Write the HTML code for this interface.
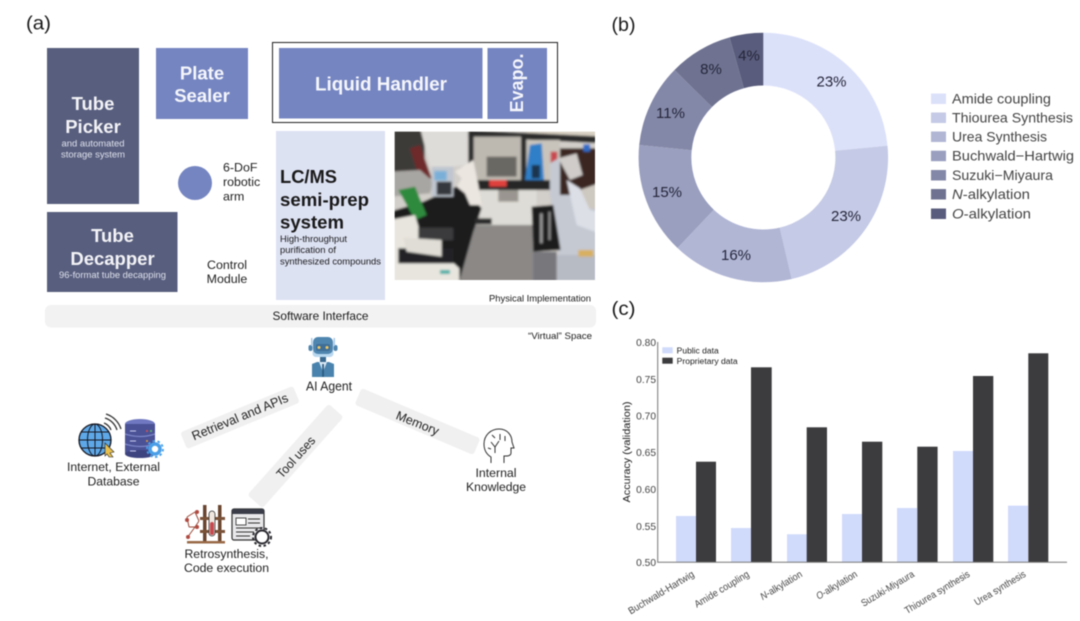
<!DOCTYPE html>
<html><head><meta charset="utf-8"><style>
html,body{margin:0;padding:0;background:#fff;width:1080px;height:621px;overflow:hidden}
svg{display:block;filter:blur(.4px)}
text{font-family:"Liberation Sans",sans-serif;fill:#1a1a1a}
.w{fill:#fff;font-weight:bold;font-size:18.5px;text-anchor:middle;fill-opacity:.93}
.ws{fill:#dfe1ec;font-size:9px;text-anchor:middle}
.d{fill:#222;font-size:12.4px}
.p{font-size:15px;fill:#25263a;text-anchor:middle}
.l{font-size:14px;fill:#444}
.t{font-size:10.2px;fill:#444;text-anchor:end}
.x{font-size:10px;fill:#444;text-anchor:end}
</style></head><body>
<svg width="1080" height="621" viewBox="0 0 1080 621" xmlns="http://www.w3.org/2000/svg">
<defs>
<filter id="b1" x="-5%" y="-5%" width="110%" height="110%"><feGaussianBlur stdDeviation="3.5"/></filter>
<clipPath id="pc"><rect x="14" y="20" width="601" height="445"/></clipPath>
</defs>
<rect width="1080" height="621" fill="#fff"/>

<text x="26" y="29.5" font-size="19.5" textLength="25" lengthAdjust="spacingAndGlyphs">(a)</text>
<rect x="47" y="48" width="92" height="156" fill="#585e7e"/>
<rect x="156" y="48" width="92" height="71" fill="#7585c1"/>
<rect x="47" y="212" width="130.500" height="80" fill="#585e7e"/>
<circle cx="195" cy="183" r="17" fill="#7585c1"/>
<rect x="272.500" y="42.500" width="285" height="80" fill="none" stroke="#222" stroke-width="1"/>
<rect x="279" y="48" width="203.500" height="70.500" fill="#7585c1"/>
<rect x="487.500" y="48" width="59.500" height="71" fill="#7585c1"/>
<rect x="276" y="131" width="109" height="169" fill="#dde2f3"/>

<text class="w" x="93" y="110">Tube</text>
<text class="w" x="93" y="133">Picker</text>
<text class="ws" x="93" y="146.500" textLength="63" lengthAdjust="spacingAndGlyphs">and automated</text>
<text class="ws" x="93" y="157.500" textLength="64" lengthAdjust="spacingAndGlyphs">storage system</text>
<text class="w" x="202" y="79.500">Plate</text>
<text class="w" x="202" y="102">Sealer</text>
<text class="w" x="112.500" y="242">Tube</text>
<text class="w" x="112.500" y="265">Decapper</text>
<text class="ws" x="112.500" y="278" textLength="107" lengthAdjust="spacingAndGlyphs">96-format tube decapping</text>
<text class="d" x="223" y="171.500">6-DoF</text>
<text class="d" x="223" y="186">robotic</text>
<text class="d" x="223" y="200.500">arm</text>
<text class="d" x="227" y="269" text-anchor="middle">Control</text>
<text class="d" x="227" y="283" text-anchor="middle">Module</text>
<text class="w" x="381" y="90.500" style="font-size:19px" textLength="132" lengthAdjust="spacingAndGlyphs">Liquid Handler</text>
<text class="w" transform="translate(523,112.500) rotate(-90)" style="text-anchor:start;font-size:18px" textLength="59" lengthAdjust="spacingAndGlyphs">Evapo.</text>
<text x="280" y="183" font-size="18.500" font-weight="bold" fill="#111" textLength="57" lengthAdjust="spacingAndGlyphs">LC/MS</text>
<text x="280" y="206" font-size="18.500" font-weight="bold" fill="#111" textLength="89" lengthAdjust="spacingAndGlyphs">semi-prep</text>
<text x="280" y="228.500" font-size="18.500" font-weight="bold" fill="#111" textLength="64" lengthAdjust="spacingAndGlyphs">system</text>
<text x="280" y="242" font-size="9.500" fill="#222" textLength="67" lengthAdjust="spacingAndGlyphs">High-throughput</text>
<text x="280" y="253" font-size="9.500" fill="#222" textLength="56" lengthAdjust="spacingAndGlyphs">purification of</text>
<text x="280" y="264.500" font-size="9.500" fill="#222" textLength="101" lengthAdjust="spacingAndGlyphs">synthesized compounds</text>

<g transform="translate(390,125) scale(.3333)">
<g clip-path="url(#pc)"><g filter="url(#b1)">
<rect x="0" y="0" width="640" height="480" fill="#d2cec9"/>
<rect x="0" y="0" width="104" height="170" fill="#3e3a38"/>
<polygon points="60,70 90,60 125,160 90,165" fill="#6e2a2c"/>
<polygon points="88,0 235,0 240,120 190,125 130,165" fill="#dedcd8"/>
<rect x="410" y="0" width="230" height="40" fill="#d9d2c4"/>
<polygon points="235,15 640,35 640,55 235,35" fill="#2a2a2a"/>
<rect x="245" y="35" width="150" height="135" fill="#bdb9b1"/>
<rect x="410" y="45" width="100" height="125" fill="#c8c4bc"/>
<rect x="290" y="95" width="90" height="60" fill="#6a6863"/>
<rect x="235" y="25" width="16" height="145" fill="#2a2a2a"/>
<rect x="393" y="30" width="16" height="140" fill="#2a2a2a"/>
<rect x="270" y="190" width="170" height="110" fill="#dedcd6"/>
<rect x="325" y="195" width="60" height="35" fill="#9a9590"/>
<rect x="250" y="165" width="230" height="30" fill="#262626"/>
<rect x="298" y="165" width="52" height="20" fill="#e0413c"/>
<polygon points="420,60 455,55 462,165 405,165" fill="#2e7fc8"/>
<rect x="425" y="120" width="25" height="40" fill="#1d3550"/>
<rect x="482" y="80" width="20" height="35" fill="#c84a50"/>
<polygon points="210,300 440,300 440,480 200,480" fill="#8b8886"/>
<polygon points="0,140 90,135 130,170 120,205 0,215" fill="#a8a6a2"/>
<polygon points="100,230 210,180 275,250 250,320 205,480 130,420 0,290 0,260" fill="#1c1c1e"/>
<polygon points="25,195 75,185 110,270 75,285" fill="#2f8a3e"/>
<rect x="255" y="280" width="50" height="18" fill="#2a2a2a"/>
<rect x="125" y="125" width="65" height="90" fill="#bfc6cf"/>
<rect x="133" y="138" width="37" height="28" fill="#7ab0d8"/>
<rect x="140" y="170" width="45" height="40" fill="#35383e"/>
<polygon points="195,140 250,105 265,180 275,240 240,240 225,205 200,185 215,160" fill="#ebe6e0"/>
<polygon points="0,285 75,270 90,320 208,430 208,480 0,480" fill="#e8e5de"/>
<rect x="85" y="308" width="105" height="38" fill="#3a3a3c"/>
<rect x="25" y="370" width="165" height="45" fill="#242426"/>
<polygon points="40,338 155,345 155,395 50,380" fill="#e0ddd6"/>
<rect x="150" y="435" width="30" height="12" fill="#4fb0a8"/>
<polygon points="480,115 505,100 640,240 640,480 500,480 505,370 480,210" fill="#c5c9d2"/>
<polygon points="425,245 490,240 512,375 430,380" fill="#1a1a1a"/>
<rect x="450" y="265" width="8" height="90" fill="#9a9a9a"/>
<rect x="475" y="260" width="7" height="85" fill="#8a8a8a"/>
<rect x="510" y="70" width="130" height="140" fill="#3a2620"/>
<polygon points="505,100 560,85 578,150 540,165" fill="#cfccc9"/>
<rect x="580" y="58" width="20" height="22" fill="#2e6cc8"/>
<polygon points="555,200 640,170 640,255 565,245" fill="#cdc8c0"/>
<polygon points="530,165 570,190 600,255 640,265 640,330 560,300" fill="#dcdfe6"/>
<rect x="500" y="390" width="140" height="90" fill="#b7bbc4"/>
<rect x="565" y="375" width="45" height="20" fill="#d8b060"/>
<rect x="430" y="380" width="70" height="100" fill="#77777c"/>
</g></g></g>

<text x="489" y="301.500" font-size="9.500" fill="#222" textLength="102" lengthAdjust="spacingAndGlyphs">Physical Implementation</text>
<rect x="45" y="305" width="551" height="22.500" rx="6" fill="#f2f2f2"/>
<text x="272.500" y="320" font-size="12" fill="#222" textLength="96" lengthAdjust="spacingAndGlyphs">Software Interface</text>
<text x="528" y="339" font-size="9.500" fill="#222" textLength="64" lengthAdjust="spacingAndGlyphs">“Virtual” Space</text>

<rect x="179" y="408.500" width="122" height="18" rx="3" fill="#f0f0f0" transform="rotate(-22.500 240 417.500)"/>
<rect x="353" y="412.500" width="129" height="18" rx="3" fill="#f0f0f0" transform="rotate(23 417.500 421.500)"/>
<rect x="234.500" y="446" width="122" height="20" rx="3" fill="#f0f0f0" transform="rotate(-48.300 295.500 456)"/>
<text class="d" transform="translate(194,440.500) rotate(-22.500)" style="font-size:12.800px" textLength="103" lengthAdjust="spacingAndGlyphs">Retrieval and APIs</text>
<text class="d" text-anchor="middle" transform="translate(416,427) rotate(22)" style="font-size:12.500px" textLength="45" lengthAdjust="spacingAndGlyphs">Memory</text>
<text class="d" text-anchor="middle" transform="translate(299,460) rotate(-48)" style="font-size:12.500px" textLength="51" lengthAdjust="spacingAndGlyphs">Tool uses</text>

<!-- robot -->
<g>
<rect x="308.500" y="345" width="4" height="6" rx="2" fill="#4f86b0"/><rect x="333.500" y="345" width="4" height="6" rx="2" fill="#4f86b0"/>
<rect x="311" y="338" width="1.500" height="8" fill="#a8c8e8"/><rect x="333.500" y="338" width="1.500" height="8" fill="#a8c8e8"/>
<rect x="312.500" y="349" width="21" height="8" rx="3.500" fill="#b8d8f0"/>
<rect x="313" y="337" width="20" height="17" rx="5" fill="#4f86b0"/>
<rect x="316" y="344" width="14" height="7" rx="2" fill="#3f6e96"/>
<circle cx="319" cy="347.500" r="1.500" fill="#f0c860"/><circle cx="327" cy="347.500" r="1.500" fill="#f0c860"/>
<rect x="320" y="357" width="6" height="5" fill="#3a6a90"/>
<polygon points="312,364 317,362 329,362 334,364 334,377 312,377" fill="#4a84ae"/>
<polygon points="319,362 327,362 323,372" fill="#d8e8f4"/>
<rect x="322.200" y="364" width="1.700" height="13" fill="#2a5a80"/>
</g>
<text class="d" x="329" y="390.500" text-anchor="middle" style="font-size:13px" textLength="46" lengthAdjust="spacingAndGlyphs">AI Agent</text>

<!-- globe + db -->
<g>
<circle cx="95" cy="440" r="16" fill="#5ea8e8" stroke="#17171f" stroke-width="1.300"/>
<ellipse cx="95" cy="440" rx="7.500" ry="16" fill="none" stroke="#17171f" stroke-width="1"/>
<path d="M79 440H111M81 432H109M81 448H109M95 424V456" stroke="#17171f" stroke-width="1" fill="none"/>
<path d="M104 423a12 12 0 0 1 7 7M105 418a18 18 0 0 1 12 12M106 414a23 23 0 0 1 15 15" stroke="#333" stroke-width="1.300" fill="none"/>
<polygon points="105,443 114,452 110,453 113,457 109,457 107,454 105,456" fill="#e8c050" stroke="#222" stroke-width=".6"/>
<ellipse cx="140" cy="424" rx="15" ry="5" fill="#6f78c0"/>
<rect x="125" y="424" width="30" height="30" fill="#4b5296"/>
<ellipse cx="140" cy="454" rx="15" ry="4" fill="#3e447f"/>
<path d="M125 434q15 5 30 0M125 444q15 5 30 0" stroke="#7f88cc" stroke-width="1.200" fill="none"/>
<path d="M130 431h6M130 441h6M130 451h6" stroke="#c8ccf0" stroke-width="1"/>
<circle cx="147" cy="431" r="1" fill="#e05050"/><circle cx="151" cy="431" r="1" fill="#60c060"/><circle cx="147" cy="441" r="1" fill="#e0a040"/>
<circle cx="155" cy="449" r="5" fill="#fff" stroke="#4aa0e8" stroke-width="3.500"/>
<circle cx="155" cy="449" r="8" fill="none" stroke="#4aa0e8" stroke-width="1.800" stroke-dasharray="2.500 2.500"/>
</g>
<text class="d" x="113.500" y="471" text-anchor="middle" textLength="93" lengthAdjust="spacingAndGlyphs">Internet, External</text>
<text class="d" x="113.500" y="485.500" text-anchor="middle" textLength="52" lengthAdjust="spacingAndGlyphs">Database</text>

<!-- retro icons -->
<g>
<path d="M187 517l8-5M195 512l4 9M195 527l4-6M187 517l2 10M189 527l6 0M187 538l8-11" stroke="#9a4a3a" stroke-width="1" fill="none"/>
<circle cx="197" cy="512" r="2" fill="#b04a40"/><circle cx="187" cy="520" r="2" fill="#b04a40"/><circle cx="197" cy="527" r="2" fill="#b04a40"/><circle cx="188" cy="537" r="2" fill="#b04a40"/>
<rect x="203" y="505" width="3.500" height="36" fill="#6a4630"/><rect x="218" y="505" width="3.500" height="36" fill="#6a4630"/>
<rect x="200" y="517" width="25" height="3" fill="#7a5238"/><rect x="200" y="530" width="25" height="3" fill="#7a5238"/>
<rect x="209" y="511" width="6" height="25" rx="3" fill="#f0e8e0" stroke="#333" stroke-width=".8"/>
<rect x="210" y="522" width="4" height="13" rx="2" fill="#c84a50"/>
<rect x="187" y="541" width="38" height="2.500" fill="#9a6a48"/>
<rect x="232" y="509" width="32" height="31" rx="2" fill="#e8e8ea" stroke="#333" stroke-width="1.200"/>
<rect x="232" y="509" width="32" height="5" fill="#3a3c48"/>
<rect x="236" y="518" width="10" height="7" fill="#fff" stroke="#222" stroke-width=".8"/>
<path d="M248 519h12M248 523h12M236 528h24M236 532h18M236 536h14" stroke="#333" stroke-width="1.100"/>
<circle cx="262" cy="537" r="6.500" fill="#fff" stroke="#2a2a30" stroke-width="2"/>
<circle cx="262" cy="537" r="9" fill="none" stroke="#2a2a30" stroke-width="2" stroke-dasharray="2.500 2.500"/>
</g>
<text class="d" x="226.500" y="558" text-anchor="middle" textLength="84" lengthAdjust="spacingAndGlyphs">Retrosynthesis,</text>
<text class="d" x="226.500" y="572" text-anchor="middle" textLength="85" lengthAdjust="spacingAndGlyphs">Code execution</text>

<!-- head -->
<g fill="none" stroke="#333" stroke-width="1">
<path d="M491 463v-6c-5-3-7-8-7-13 0-9 7-15 15-15 9 0 13 7 13 13l2 6h-3v5c0 2-2 3-5 3h-2v7"/>
<path d="M491 442l4 5 4-6M495 447v6M492 435l3 3M500 434v6M505 436v5M488 448l3 1"/>
</g>
<text class="d" x="496" y="477" text-anchor="middle" textLength="41" lengthAdjust="spacingAndGlyphs">Internal</text>
<text class="d" x="496" y="491" text-anchor="middle" textLength="60" lengthAdjust="spacingAndGlyphs">Knowledge</text>

<!-- (b) -->
<text x="611.500" y="31" font-size="19.500" textLength="24" lengthAdjust="spacingAndGlyphs">(b)</text>
<g id="donut">
<path d="M763.3 32.800A124.700 124.700 0 0 1 887.500 145.800L835.100 150.800A72 72 0 0 0 763.300 85.500Z" fill="#dce1fa"/>
<path d="M887.500 145.800A124.700 124.700 0 0 1 791.700 279L779.700 227.600A72 72 0 0 0 835.100 150.800Z" fill="#c5cae6"/>
<path d="M791.700 279A124.700 124.700 0 0 1 677.500 248L713.800 209.700A72 72 0 0 0 779.700 227.600Z" fill="#b1b6d5"/>
<path d="M677.500 248A124.700 124.700 0 0 1 639.200 145L691.700 150.200A72 72 0 0 0 713.800 209.700Z" fill="#9a9fbf"/>
<path d="M639.200 145A124.700 124.700 0 0 1 674.500 70L712 107A72 72 0 0 0 691.700 150.200Z" fill="#8488a8"/>
<path d="M674.500 70A124.700 124.700 0 0 1 729.600 37.400L743.900 88.200A72 72 0 0 0 712 107Z" fill="#6f7391"/>
<path d="M729.600 37.400A124.700 124.700 0 0 1 763.300 32.800L763.300 85.500A72 72 0 0 0 743.900 88.200Z" fill="#595c7c"/>
</g>
<text class="p" x="831.500" y="86.500">23%</text>
<text class="p" x="846" y="221">23%</text>
<text class="p" x="736" y="260">16%</text>
<text class="p" x="667" y="197">15%</text>
<text class="p" x="670.500" y="118">11%</text>
<text class="p" x="711" y="74">8%</text>
<text class="p" x="749" y="60.500">4%</text>

<rect x="931" y="93.500" width="15" height="10.500" fill="#dce1fa"/>
<rect x="931" y="112.500" width="15" height="10.500" fill="#c5cae6"/>
<rect x="931" y="131.500" width="15" height="10.500" fill="#b1b6d5"/>
<rect x="931" y="150.700" width="15" height="10.500" fill="#9a9fbf"/>
<rect x="931" y="170" width="15" height="10.500" fill="#8488a8"/>
<rect x="931" y="189" width="15" height="10.500" fill="#6f7391"/>
<rect x="931" y="208.500" width="15" height="10.500" fill="#595c7c"/>
<text class="l" x="952" y="103.500" textLength="99" lengthAdjust="spacingAndGlyphs">Amide coupling</text>
<text class="l" x="952" y="122.500" textLength="121" lengthAdjust="spacingAndGlyphs">Thiourea Synthesis</text>
<text class="l" x="952" y="141.500" textLength="95" lengthAdjust="spacingAndGlyphs">Urea Synthesis</text>
<text class="l" x="952" y="160.700" textLength="122" lengthAdjust="spacingAndGlyphs">Buchwald−Hartwig</text>
<text class="l" x="952" y="180" textLength="101" lengthAdjust="spacingAndGlyphs">Suzuki−Miyaura</text>
<text class="l" x="952" y="199" textLength="78" lengthAdjust="spacingAndGlyphs"><tspan font-style="italic">N</tspan>-alkylation</text>
<text class="l" x="952" y="218.500" textLength="79" lengthAdjust="spacingAndGlyphs"><tspan font-style="italic">O</tspan>-alkylation</text>

<!-- (c) -->
<text x="611.500" y="315" font-size="19.500" textLength="24" lengthAdjust="spacingAndGlyphs">(c)</text>
<g fill="#d0dafb">
<rect x="676" y="516" width="20" height="46.300"/>
<rect x="731" y="528" width="20" height="34.300"/>
<rect x="787" y="534.300" width="20" height="28"/>
<rect x="842" y="514" width="20" height="48.300"/>
<rect x="897" y="508" width="20" height="54.300"/>
<rect x="953" y="451" width="20" height="111.300"/>
<rect x="1008" y="505.700" width="20" height="56.600"/>
</g>
<g fill="#3c3c3e">
<rect x="696" y="461.700" width="20" height="100.600"/>
<rect x="751" y="367.300" width="20.700" height="195"/>
<rect x="806.700" y="427.300" width="20.300" height="135"/>
<rect x="862" y="441.700" width="20.300" height="120.600"/>
<rect x="917.300" y="446.700" width="20.300" height="115.600"/>
<rect x="973" y="376" width="20.300" height="186.300"/>
<rect x="1028.300" y="353.300" width="20" height="209"/>
</g>
<path d="M657.700 342V562.300H1067" fill="none" stroke="#777" stroke-width="1"/>
<text class="t" x="656" y="346">0.80</text>
<text class="t" x="656" y="383">0.75</text>
<text class="t" x="656" y="419.500">0.70</text>
<text class="t" x="656" y="456">0.65</text>
<text class="t" x="656" y="493">0.60</text>
<text class="t" x="656" y="529.800">0.55</text>
<text class="t" x="656" y="566">0.50</text>
<text font-size="10.500" fill="#444" transform="translate(630,502.500) rotate(-90)" textLength="101" lengthAdjust="spacingAndGlyphs">Accuracy (validation)</text>
<rect x="662.300" y="347.300" width="10.400" height="6" fill="#d0dafb"/>
<rect x="662.300" y="357.700" width="10.400" height="6" fill="#3c3c3e"/>
<text x="676.700" y="353.500" font-size="8" fill="#444" textLength="42" lengthAdjust="spacingAndGlyphs">Public data</text>
<text x="676.700" y="364" font-size="8" fill="#444" textLength="61" lengthAdjust="spacingAndGlyphs">Proprietary data</text>
<text class="x" transform="translate(695,576) rotate(-31)" textLength="75" lengthAdjust="spacingAndGlyphs">Buchwald-Hartwig</text>
<text class="x" transform="translate(750,576) rotate(-31)" textLength="62" lengthAdjust="spacingAndGlyphs">Amide coupling</text>
<text class="x" transform="translate(803,576) rotate(-31)" textLength="47" lengthAdjust="spacingAndGlyphs"><tspan font-style="italic">N</tspan>-alkylation</text>
<text class="x" transform="translate(858,576) rotate(-31)" textLength="46" lengthAdjust="spacingAndGlyphs"><tspan font-style="italic">O</tspan>-alkylation</text>
<text class="x" transform="translate(915,576) rotate(-31)" textLength="60" lengthAdjust="spacingAndGlyphs">Suzuki-Miyaura</text>
<text class="x" transform="translate(970.500,576) rotate(-31)" textLength="74" lengthAdjust="spacingAndGlyphs">Thiourea synthesis</text>
<text class="x" transform="translate(1026.500,576) rotate(-31)" textLength="58" lengthAdjust="spacingAndGlyphs">Urea synthesis</text>
</svg>
</body></html>
